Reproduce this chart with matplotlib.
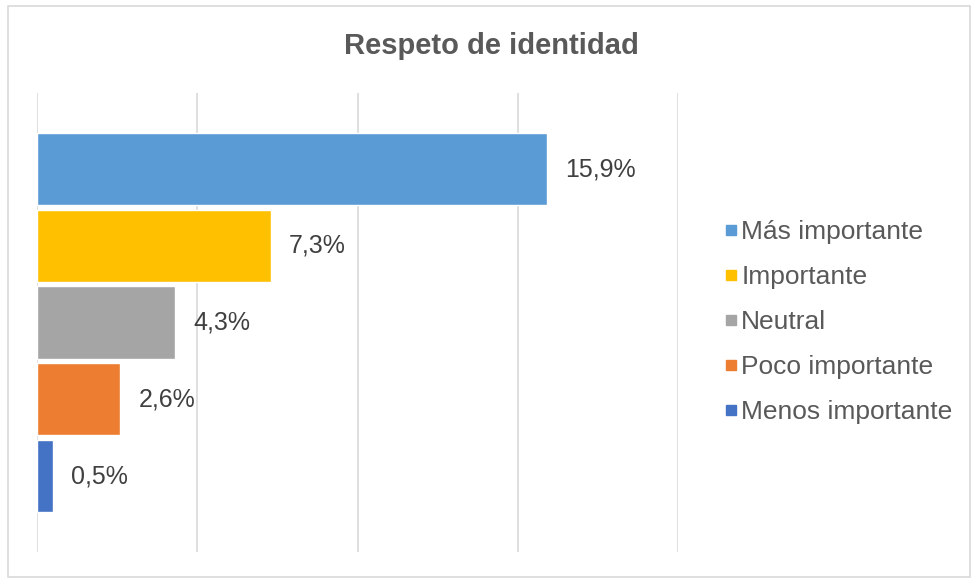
import matplotlib.pyplot as plt
from matplotlib.patches import Rectangle
from matplotlib.lines import Line2D

plt.rcParams['font.family'] = ['Liberation Sans', 'DejaVu Sans']

categorias = ['Más importante', 'Importante', 'Neutral', 'Poco importante', 'Menos importante']
porcentajes = [15.9, 7.3, 4.3, 2.6, 0.5]
etiquetas = ['15,9%', '7,3%', '4,3%', '2,6%', '0,5%']
colores = ['#5B9BD5', '#FFC000', '#A5A5A5', '#ED7D31', '#4472C4']

fig = plt.figure(figsize=(9.72, 5.78), dpi=100)
ax = fig.add_axes([0.0381, 0.045, 0.6595, 0.794])

# marco gris alrededor del gráfico
fig.patches.append(Rectangle((7.5 / 972, 1.5 / 578), 962 / 972, 571 / 578,
                             transform=fig.transFigure, fill=False,
                             edgecolor='#D9D9D9', linewidth=1.2))

pos = list(range(len(categorias)))
ax.barh(pos, porcentajes, height=0.94, color=colores, edgecolor='white',
        linewidth=1.0, zorder=3)
for y, v, txt in zip(pos, porcentajes, etiquetas):
    ax.annotate(txt, (v, y), xytext=(13, 0), textcoords='offset points',
                ha='left', va='center', fontsize=18, color='#404040')

ax.set_xlim(0, 20)
ax.set_ylim(4.99, -0.99)
ax.set_xticks([0, 5, 10, 15, 20])
ax.set_yticks([])
ax.tick_params(axis='x', length=0, labelbottom=False)
ax.grid(axis='x', color='#D9D9D9', linewidth=1.2, zorder=0)
for s in ax.spines.values():
    s.set_visible(False)

fig.text(491 / 972, 1 - 46 / 578, 'Respeto de identidad', ha='center', va='center',
         fontsize=21, fontweight='bold', color='#595959')

handles = [Line2D([], [], linestyle='none', marker='s', markersize=6.5,
                  markerfacecolor=c, markeredgecolor=c) for c in colores]
fig.legend(handles, categorias, loc='center left', bbox_to_anchor=(724 / 972, 1 - 322 / 578),
           frameon=False, fontsize=19, labelcolor='#595959', handlelength=0.5,
           handletextpad=0.15, labelspacing=0.8, borderpad=0, borderaxespad=0)

fig.savefig('out.png', dpi=100)
